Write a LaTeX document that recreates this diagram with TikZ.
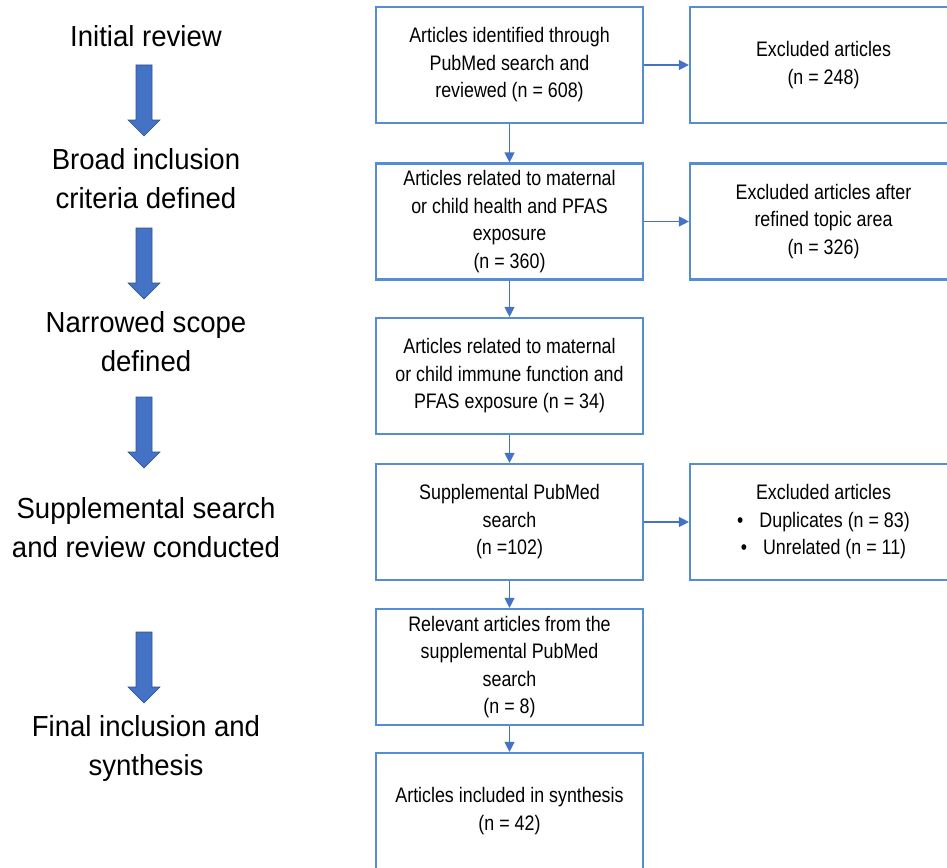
\documentclass[tikz,border=0pt]{standalone}
\usepackage{fontspec}
\setmainfont{Liberation Sans}
\newfontfamily\boxfont[FakeStretch=0.85]{Liberation Sans}
\newfontfamily\stagefont[FakeStretch=0.95]{Liberation Sans}
\usetikzlibrary{arrows.meta}
\usetikzlibrary{positioning}

\definecolor{boxblue}{RGB}{84,141,212}
\definecolor{linkblue}{RGB}{68,114,196}
\definecolor{arrowedge}{RGB}{47,82,143}

\begin{document}
\begin{tikzpicture}[x=1pt,y=-1pt,
  article/.style={draw=boxblue,line width=2.2pt,minimum width=267pt,minimum height=116pt,
    align=center,inner sep=0pt,font=\boxfont\fontsize{21}{27.5}\selectfont},
  stage/.style={align=center,inner sep=0pt,anchor=base,font=\stagefont\fontsize{29}{38.5}\selectfont},
  flow/.style={draw=linkblue,line width=1.3pt,-{Triangle[length=10pt,width=10pt]}}]
\useasboundingbox (0,0) rectangle (947,867);
%\draw[help lines,step=50] (0,0) grid (947,867);

% stages on the left (base = last line)
\node[stage] (s1) at (146,47) {Initial review};
\node[stage] (s2) at (146,208) {Broad inclusion\\criteria defined};
\node[stage] (s3) at (146,371) {Narrowed scope\\defined};
\node[stage] (s4) at (146,557) {Supplemental search\\and review conducted};
\node[stage] (s5) at (146,775) {Final inclusion and\\synthesis};

\foreach \t in {65,228,397,632}
  \filldraw[fill=linkblue,draw=arrowedge,line width=0.6pt] (136,\t) -- (152,\t) -- (152,\t+55)
    -- (160,\t+55) -- (144,\t+71) -- (128,\t+55) -- (136,\t+55) -- cycle;

% main column
\node[article] (b1) at (509.5,65) {Articles identified through\\PubMed search and\\reviewed (n = 608)};
\node[article] (b2) at (509.5,221.5) {Articles related to maternal\\or child health and PFAS\\exposure\\(n = 360)};
\node[article] (b3) at (509.5,376) {Articles related to maternal\\or child immune function and\\PFAS exposure (n = 34)};
\node[article] (b4) at (509.5,522) {Supplemental PubMed\\search\\(n =102)};
\node[article] (b5) at (509.5,667) {Relevant articles from the\\supplemental PubMed\\search\\(n = 8)};
\node[article] (b6) at (509.5,811) {Articles included in synthesis\\(n = 42)};

% exclusions
\node[article] (r1) at (823.5,65) {Excluded articles\\(n = 248)};
\node[article] (r2) at (823.5,221.5) {Excluded articles after\\refined topic area\\(n = 326)};
\node[article] (r4) at (823.5,522) {Excluded articles\\\textbullet\hspace{16pt}Duplicates (n = 83)\\\textbullet\hspace{16pt}Unrelated (n = 11)};

\draw[flow] (b1) -- (b2);
\draw[flow] (b2) -- (b3);
\draw[flow] (b3) -- (b4);
\draw[flow] (b4) -- (b5);
\draw[flow] (b5) -- (b6);
\draw[flow] (b1) -- (r1);
\draw[flow] (b2) -- (r2);
\draw[flow] (b4) -- (r4);

\end{tikzpicture}
\end{document}
